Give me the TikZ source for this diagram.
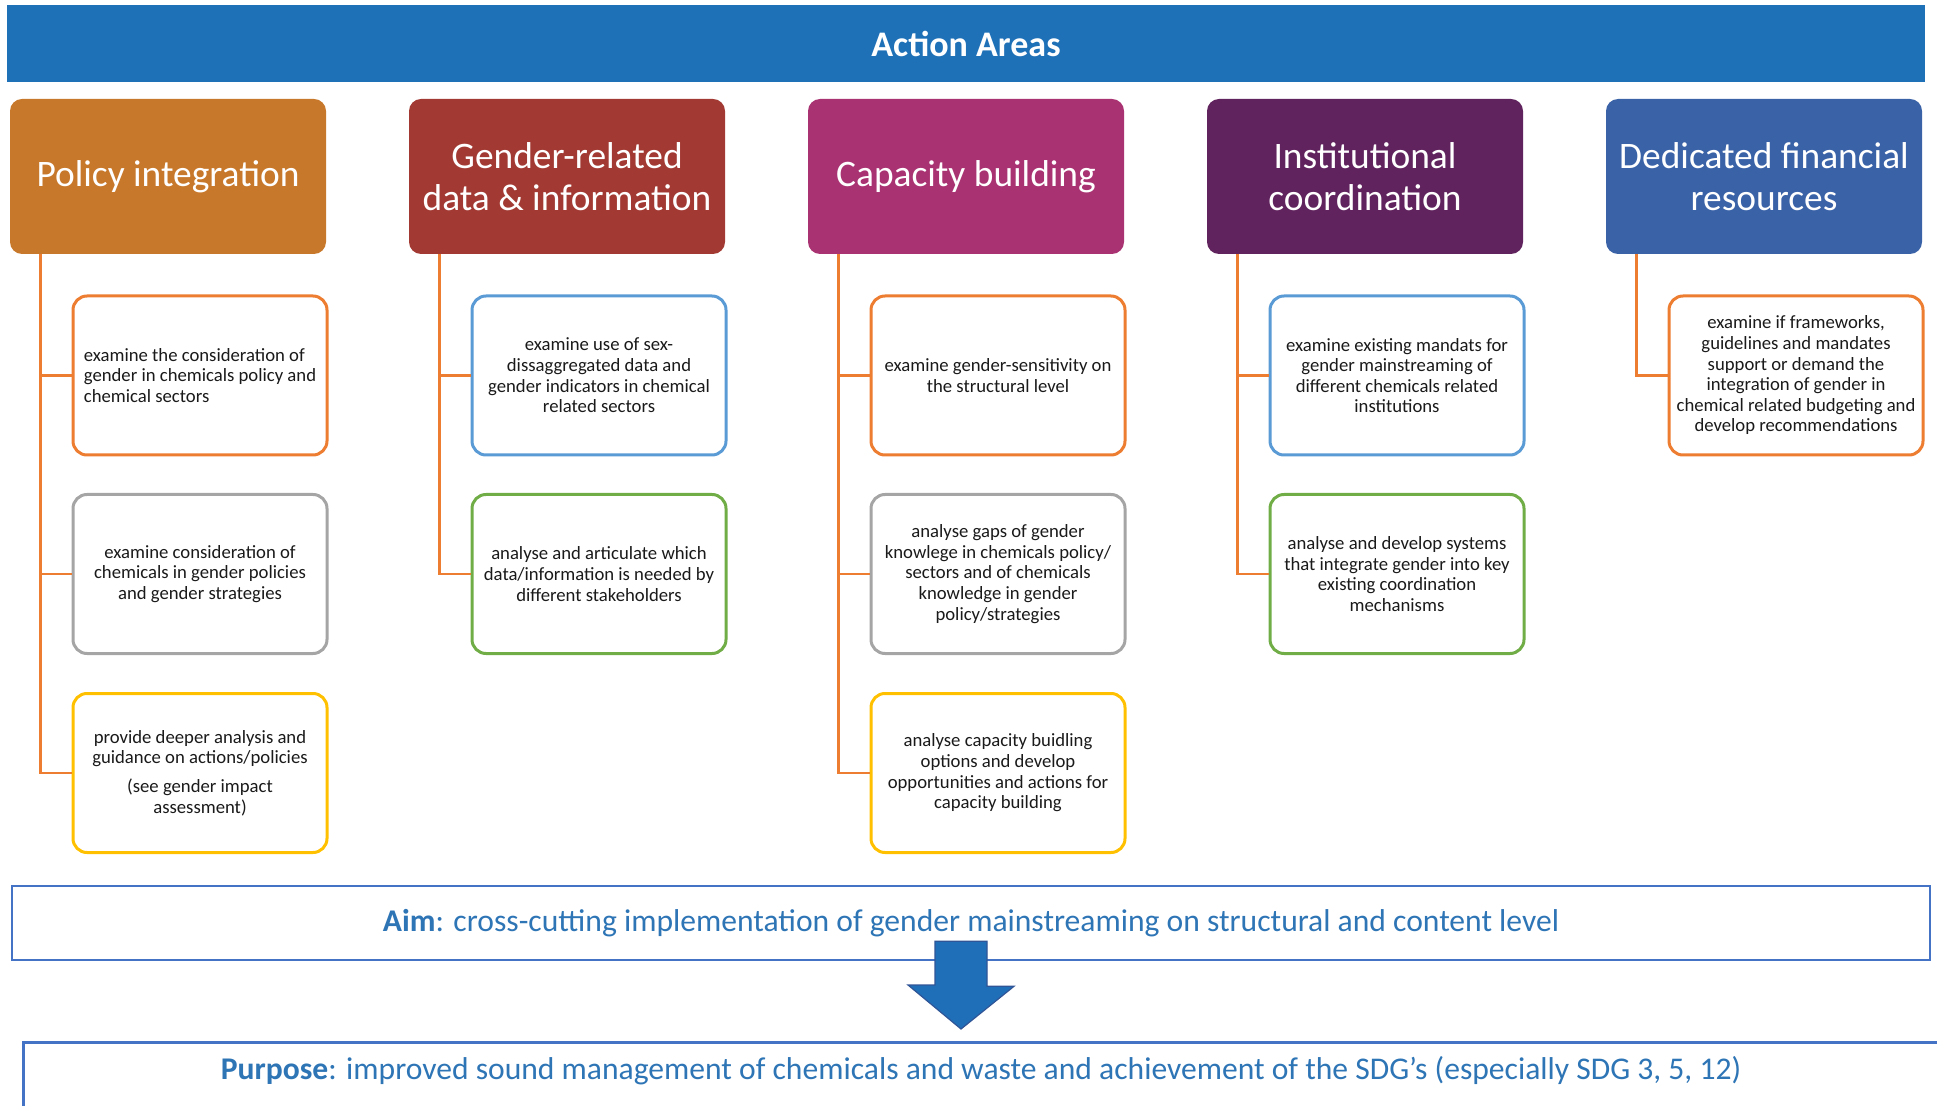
\documentclass[tikz,border=0pt]{standalone}
\usepackage{fontspec}
\setmainfont{Carlito}
\definecolor{barblue}{HTML}{1E70B7}
\definecolor{hA}{HTML}{C8782A}
\definecolor{hB}{HTML}{A23A33}
\definecolor{hC}{HTML}{A93272}
\definecolor{hD}{HTML}{60235D}
\definecolor{hE}{HTML}{3A62A7}
\definecolor{bOrange}{HTML}{ED7D31}
\definecolor{bBlue}{HTML}{5B9BD5}
\definecolor{bGray}{HTML}{A5A5A5}
\definecolor{bGreen}{HTML}{70AD47}
\definecolor{bGold}{HTML}{FFC000}
\definecolor{frameblue}{HTML}{4472C4}
\definecolor{txtblue}{HTML}{2E75B6}
\definecolor{arrowfill}{HTML}{1F6FB8}
\definecolor{arrowedge}{HTML}{2F5597}
\definecolor{subtext}{HTML}{1A1A1A}
\begin{document}
\begin{tikzpicture}[x=0.5pt,y=-0.5pt,
  titlebar/.style={fill=barblue,draw=none,minimum width=959pt,minimum height=38.5pt,inner sep=0pt,
    text=white,font=\fontsize{18}{21}\selectfont\bfseries},
  headbox/.style={fill=#1,draw=none,rounded corners=6pt,minimum width=158pt,minimum height=77.5pt,
    inner sep=2pt,text=white,align=center,font=\fontsize{18.7}{21}\selectfont},
  subbox/.style={draw=#1,line width=1.5pt,fill=white,rounded corners=7pt,minimum width=127pt,
    minimum height=79.5pt,inner sep=1pt,align=center,text=subtext,font=\fontsize{9.35}{10.3}\selectfont},
  conn/.style={draw=bOrange,line width=1.3pt},
  goalframe/.style={draw=frameblue,line width=1.3pt,fill=white,inner sep=0pt},
  goaltext/.style={text=txtblue,font=\fontsize{15.8}{19}\selectfont,inner sep=0pt},
  bigarrow/.style={fill=arrowfill,draw=arrowedge,line width=0.6pt}
]
\useasboundingbox (0,0) rectangle (1937,1106);
\clip (0,0) rectangle (1937,1106);

% title bar
\node[titlebar] (title) at (966,43.5) {Action Areas};

% header boxes
\node[headbox=hA] (h1) at (168,176.5) {Policy integration};
\node[headbox=hB] (h2) at (567,176.5) {Gender-related\\data \& information};
\node[headbox=hC] (h3) at (966,176.5) {Capacity building};
\node[headbox=hD] (h4) at (1365,176.5) {Institutional\\coordination};
\node[headbox=hE] (h5) at (1764,176.5) {Dedicated financial\\resources};

% column 1
\node[subbox=bOrange,align=left] (s11) at (200,375.5) {examine the consideration of\\gender in chemicals policy and\\chemical sectors};
\node[subbox=bGray] (s12) at (200,574) {examine consideration of\\chemicals in gender policies\\and gender strategies};
\node[subbox=bGold] (s13) at (200,773) {provide deeper analysis and\\guidance on actions/policies\\[4pt](see gender impact\\assessment)};

% column 2
\node[subbox=bBlue] (s21) at (599,375.5) {examine use of sex-\\dissaggregated data and\\gender indicators in chemical\\related sectors};
\node[subbox=bGreen] (s22) at (599,574) {analyse and articulate which\\data/information is needed by\\different stakeholders};

% column 3
\node[subbox=bOrange] (s31) at (998,375.5) {examine gender-sensitivity on\\the structural level};
\node[subbox=bGray] (s32) at (998,574) {analyse gaps of gender\\knowlege in chemicals policy/\\sectors and of chemicals\\knowledge in gender\\policy/strategies};
\node[subbox=bGold] (s33) at (998,773) {analyse capacity buidling\\options and develop\\opportunities and actions for\\capacity building};

% column 4
\node[subbox=bBlue] (s41) at (1397,375.5) {examine existing mandats for\\gender mainstreaming of\\different chemicals related\\institutions};
\node[subbox=bGreen] (s42) at (1397,574) {analyse and develop systems\\that integrate gender into key\\existing coordination\\mechanisms};

% column 5
\node[subbox=bOrange] (s51) at (1796,375.5) {examine if frameworks,\\guidelines and mandates\\support or demand the\\integration of gender in\\chemical related budgeting and\\develop recommendations};

% connectors
\foreach \h/\s in {h1/s11,h1/s12,h1/s13,h2/s21,h2/s22,h3/s31,h3/s32,h3/s33,h4/s41,h4/s42,h5/s51}{
  \draw[conn] ([xshift=15.5pt]\h.south west) |- (\s.west);
}

% aim and purpose
\node[goalframe,minimum width=959pt,minimum height=37pt] (aim) at (971,923) {};
\node[goaltext] (aimtext) at (aim.center) {\textbf{Aim}: cross-cutting implementation of gender mainstreaming on structural and content level};

\node[goalframe,minimum width=975pt,minimum height=60pt,anchor=north west] (purposebox) at (22,1041) {};
\node[goaltext] (purpose) at (981,1071) {\textbf{Purpose}: improved sound management of chemicals and waste and achievement of the SDG’s (especially SDG 3, 5, 12)};

% big arrow from aim to purpose
\draw[bigarrow] ([xshift=-13pt,yshift=10pt]aim.south -| 961,0) -- ++(26pt,0) -- ++(0,-22.5pt) -- ++(13.5pt,0)
  -- ([yshift=6pt]purposebox.north -| 961,0) -- ++(-26.5pt,22pt) -- ++(13.5pt,0) -- cycle;
\end{tikzpicture}
\end{document}
